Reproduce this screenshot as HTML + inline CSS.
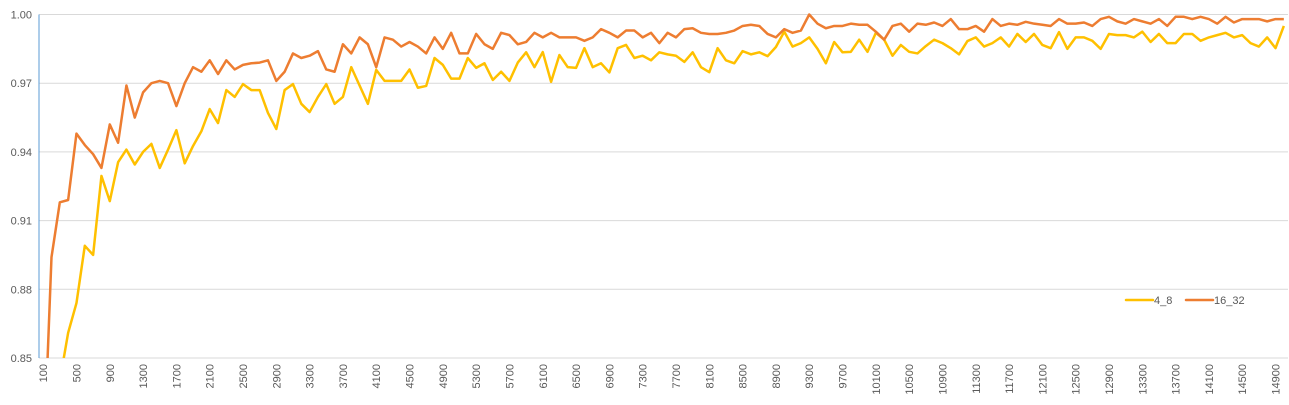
<!DOCTYPE html>
<html><head><meta charset="utf-8"><style>
html,body{margin:0;padding:0;background:#fff;overflow:hidden;width:1289px;height:405px;}
svg{display:block;}
svg text{font-family:"Liberation Sans",sans-serif;fill:#595959;font-size:11px;}
</style></head><body>
<svg id="chart" width="1289" height="405" xmlns="http://www.w3.org/2000/svg">
<g id="grid"></g><g id="axes"></g><g id="series"></g><g id="legend"></g>
</svg>
<script>
const categories = [];
for (let c = 100; c <= 15000; c += 100) categories.push(c);
const yTicks = [0.85, 0.88, 0.91, 0.94, 0.97, 1.00];
const series48 = [0.80,0.82,0.84,0.861,0.874,0.899,0.895,0.9295,0.9185,0.9355,0.941,0.9345,0.940,0.9435,0.933,0.941,0.9495,0.935,0.9426,0.949,
0.9587,0.9526,0.967,0.964,0.9696,0.967,0.967,0.957,0.950,0.967,0.9696,0.961,0.9574,0.964,0.9696,0.961,0.964,0.977,0.969,0.961,
0.9758,0.971,0.971,0.971,0.976,0.968,0.9688,0.981,0.978,0.972,0.972,0.981,0.9767,0.9787,0.9714,0.975,0.971,0.979,0.9835,0.977,
0.9836,0.9706,0.9823,0.977,0.9767,0.9853,0.977,0.9787,0.9747,0.9853,0.9867,0.981,0.982,0.980,0.9835,0.9826,0.982,0.9793,0.9835,0.977,
0.9748,0.9853,0.980,0.9787,0.984,0.9826,0.9835,0.9818,0.9858,0.9925,0.986,0.9875,0.990,0.985,0.9787,0.988,0.9835,0.9837,0.989,0.9837,
0.992,0.989,0.982,0.9867,0.9837,0.983,0.9862,0.989,0.9875,0.9853,0.9826,0.9884,0.990,0.986,0.9875,0.990,0.986,0.9915,0.988,0.9915,
0.9867,0.9853,0.9923,0.985,0.990,0.990,0.9885,0.985,0.9915,0.991,0.991,0.990,0.9925,0.988,0.9915,0.9875,0.9875,0.9915,0.9915,0.9885,
0.990,0.991,0.992,0.990,0.991,0.9875,0.986,0.990,0.9853,0.995];
const series1632 = [0.80,0.894,0.918,0.919,0.948,0.943,0.939,0.933,0.952,0.944,0.969,0.955,0.966,0.970,0.971,0.970,0.960,0.970,0.977,0.975,
0.980,0.974,0.980,0.976,0.978,0.9787,0.979,0.980,0.971,0.975,0.983,0.981,0.982,0.984,0.976,0.975,0.987,0.983,0.990,0.987,
0.977,0.990,0.989,0.986,0.988,0.986,0.983,0.990,0.985,0.992,0.983,0.983,0.9915,0.987,0.985,0.992,0.991,0.987,0.988,0.992,
0.990,0.992,0.990,0.990,0.990,0.9885,0.990,0.9936,0.992,0.990,0.993,0.993,0.990,0.992,0.9875,0.992,0.990,0.9936,0.994,0.992,
0.9915,0.9915,0.992,0.993,0.995,0.9955,0.995,0.9915,0.990,0.9936,0.992,0.993,1.000,0.996,0.994,0.995,0.995,0.996,0.9955,0.9955,
0.9925,0.989,0.995,0.996,0.9925,0.996,0.9955,0.9965,0.995,0.998,0.9936,0.9936,0.995,0.9925,0.998,0.995,0.996,0.9955,0.9968,0.996,
0.9955,0.995,0.998,0.996,0.996,0.9965,0.995,0.998,0.999,0.997,0.996,0.998,0.997,0.996,0.998,0.995,0.999,0.999,0.998,0.999,
0.998,0.996,0.999,0.9965,0.998,0.998,0.998,0.997,0.998,0.998];
const legendLabels = ["4_8","16_32"];
const colors = ["#FFC000","#ED7D31"];

const NS="http://www.w3.org/2000/svg";
const L=39,R=1288,T=14.5,B=358,ymin=0.85,ymax=1.0;
const step=(R-L)/categories.length;
function xs(i){return L+step*(i+0.5);}
function ys(v){return B-(v-ymin)/(ymax-ymin)*(B-T);}
function mk(tag,attrs,parent){const e=document.createElementNS(NS,tag);for(const k in attrs)e.setAttribute(k,attrs[k]);parent.appendChild(e);return e;}
const svg=document.getElementById('chart');
const grid=document.getElementById('grid'),axes=document.getElementById('axes'),ser=document.getElementById('series'),leg=document.getElementById('legend');
const defs=mk('defs',{},svg);
const cp=mk('clipPath',{id:'plotclip'},defs);
mk('rect',{x:L,y:0,width:R-L+2,height:B},cp);

yTicks.forEach(v=>{
  const g=mk('line',{x1:L,x2:R,y1:ys(v),y2:ys(v),stroke:'#D9D9D9','stroke-width':1},grid);
  
  
  const t=mk('text',{x:32,y:ys(v)+4,'text-anchor':'end'},axes);
  t.textContent=v.toFixed(2);
  
  
});
const ya=mk('line',{x1:L,x2:L,y1:T,y2:B,stroke:'#5B9BD5','stroke-width':1},axes);


categories.forEach((c,i)=>{
  if(i%4!==0)return;
  const x=xs(i);
  const t=mk('text',{x:0,y:0,'text-anchor':'end',transform:`translate(${x+4},364) rotate(-90)`},axes);
  t.textContent=c;
  
  
});
[series48,series1632].forEach((s,k)=>{
  const d=s.map((v,i)=>(i?'L':'M')+xs(i).toFixed(2)+','+ys(v).toFixed(2)).join(' ');
  const p=mk('path',{d:d,fill:'none',stroke:colors[k],'stroke-width':2.5,'stroke-linejoin':'round','clip-path':'url(#plotclip)'},ser);
  
  
});
const lx=[1126,1186];
legendLabels.forEach((lab,k)=>{
  const g=mk('g',{},leg);
  
  
  mk('line',{x1:lx[k],x2:lx[k]+27,y1:300,y2:300,stroke:colors[k],'stroke-width':2.5,'stroke-linecap':'round'},g);
  const t=mk('text',{x:lx[k]+28,y:304},g);
  t.textContent=lab;
});
</script>
</body></html>
